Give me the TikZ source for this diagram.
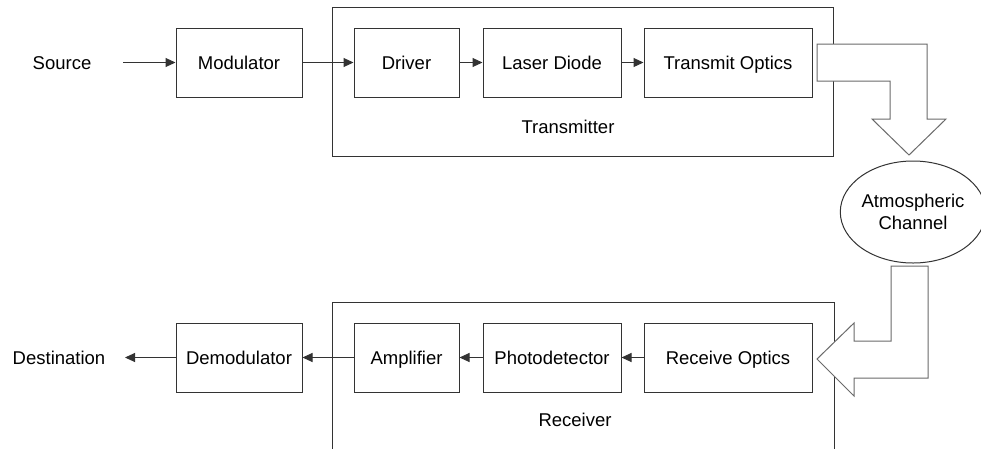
\documentclass[tikz,border=0pt]{standalone}
\usepackage{fontspec}
\setmainfont{Liberation Sans}
\usetikzlibrary{arrows.meta,shapes.geometric}
\definecolor{linec}{HTML}{333333}
\definecolor{bigc}{HTML}{6A6A6A}
\begin{document}
\begin{tikzpicture}[x=1pt,y=-1pt,
  every node/.style={font=\fontsize{18.5}{21}\selectfont, text=black},
  txt/.style={text height=13.3pt, text depth=0pt},
  blk/.style={txt, draw=linec, line width=1pt, minimum height=69pt, inner sep=0pt},
  frame/.style={draw=linec, line width=1pt, inner sep=0pt},
  plain/.style={txt, inner sep=0pt},
  sig/.style={draw=linec, line width=1pt, -{Triangle[length=10pt,width=9pt]}},
  bigarrow/.style={draw=bigc, fill=white, line width=1pt, line join=miter}]
\clip (0,0) rectangle (981,448);
\fill[white] (0,0) rectangle (981,448);
% frames
\node[frame, minimum width=501pt, minimum height=149pt] (txf) at (582.5,81.5) {};
\node[frame, minimum width=502pt, minimum height=160pt] (rxf) at (583,382) {};
\node[plain] (txl) at (568,127) {Transmitter};
\node[plain] (rxl) at (575,420) {Receiver};
% top row
\node[plain] (src) at (62,62.5) {Source};
\coordinate (srcE) at (123,62.5);
\node[blk, minimum width=126pt] (mod) at (239,62.5) {Modulator};
\node[blk, minimum width=105pt] (drv) at (406.5,62.5) {Driver};
\node[blk, minimum width=138pt] (ld) at (552,62.5) {Laser Diode};
\node[blk, minimum width=168pt] (to) at (728,62.5) {Transmit Optics};
% bottom row
\node[plain] (dst) at (59,357.5) {Destination};
\coordinate (dstE) at (125,357.5);
\node[blk, minimum width=126pt] (dem) at (239,357.5) {Demodulator};
\node[blk, minimum width=105pt] (amp) at (406.5,357.5) {Amplifier};
\node[blk, minimum width=138pt] (pd) at (552,357.5) {Photodetector};
\node[blk, minimum width=168pt] (ro) at (728,357.5) {Receive Optics};
% signal arrows
\draw[sig] (srcE) -- (mod.west);
\draw[sig] (mod.east) -- (drv.west);
\draw[sig] (drv.east) -- (ld.west);
\draw[sig] (ld.east) -- (to.west);
\draw[sig] (ro.west) -- (pd.east);
\draw[sig] (pd.west) -- (amp.east);
\draw[sig] (amp.west) -- (dem.east);
\draw[sig] (dem.west) -- (dstE);
% channel
\node[draw=linec, line width=1pt, ellipse, minimum width=131pt, minimum height=102pt, inner sep=0pt, align=center, font=\fontsize{18.5}{22}\selectfont] (ch) at (913,212) {Atmospheric\\Channel};
% big hollow arrows
\draw[bigarrow] (817,44) -- (927,44) -- (927,119) -- (946,119) -- (909,155) -- (872,119) -- (890,119) -- (890,81) -- (817,81) -- cycle;
\draw[bigarrow] (891,266) -- (928,266) -- (928,378) -- (854,378) -- (854,396) -- (817,359) -- (854,323) -- (854,341) -- (891,341) -- cycle;
\end{tikzpicture}
\end{document}
